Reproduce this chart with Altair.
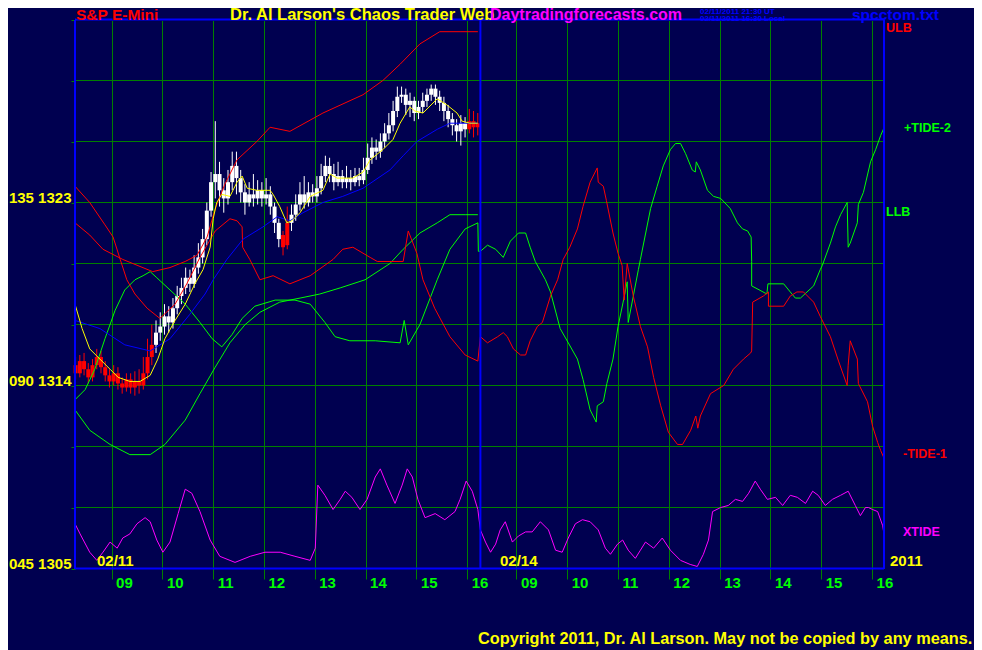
import altair as alt
import pandas as pd

BG = "#000050"
GRID = "#008000"
BLUE = "#0000ff"
RED = "#ff0000"
GREEN = "#00ff00"
YELLOW = "#ffff00"
MAGENTA = "#ff00ff"
SANS = "Liberation Sans, Arial, sans-serif"

# ---- x positions: session hours; day 2 is placed after day 1 ----
DAY1_SHIFT = 8.28
DAY2_SHIFT = 0.31
hour_ticks = [9, 10, 11, 12, 13, 14, 15, 16]
price_lines = [1305, 1308, 1311, 1314, 1317, 1320, 1323, 1326, 1329, 1332]

# ---- price bars (5-minute bars, day 1): open, high, low, close ----
bars = [
    (1315.0, 1315.4, 1314.3, 1314.6), (1314.6, 1315.5, 1314.4, 1315.2), (1315.2, 1315.6, 1314.5, 1314.8),
    (1314.8, 1315.1, 1314.1, 1314.4), (1314.4, 1315.3, 1314.2, 1315.0), (1315.0, 1315.8, 1314.8, 1315.4),
    (1315.4, 1315.7, 1314.6, 1314.9), (1314.9, 1315.2, 1314.2, 1314.5), (1314.5, 1314.8, 1313.9, 1314.2),
    (1314.2, 1315.0, 1314.0, 1314.6), (1314.6, 1314.9, 1313.8, 1314.1), (1314.1, 1314.4, 1313.6, 1313.9),
    (1313.9, 1314.6, 1313.7, 1314.3), (1314.3, 1314.6, 1313.6, 1313.9), (1313.9, 1314.7, 1313.5, 1314.2),
    (1314.2, 1314.8, 1313.6, 1314.0), (1314.0, 1315.4, 1313.8, 1314.6), (1314.6, 1316.3, 1314.3, 1315.4),
    (1315.4, 1317.0, 1315.0, 1316.0), (1316.0, 1317.2, 1315.6, 1316.6), (1316.6, 1317.6, 1316.2, 1316.9),
    (1316.9, 1318.0, 1316.5, 1317.4), (1317.4, 1317.9, 1316.6, 1317.1), (1317.1, 1318.3, 1316.8, 1317.8),
    (1317.8, 1318.9, 1317.5, 1318.4), (1318.4, 1319.3, 1318.0, 1318.8), (1318.8, 1319.8, 1318.5, 1319.3),
    (1319.3, 1319.7, 1318.6, 1319.0), (1319.0, 1320.4, 1318.8, 1319.8), (1319.8, 1321.0, 1319.5, 1320.3),
    (1320.3, 1321.7, 1320.0, 1321.2), (1321.2, 1323.0, 1320.9, 1322.6), (1322.6, 1324.5, 1322.3, 1324.0),
    (1324.0, 1327.0, 1323.2, 1324.4), (1324.4, 1325.0, 1322.8, 1323.6), (1323.6, 1324.2, 1322.5, 1323.2),
    (1323.2, 1324.6, 1322.9, 1324.0), (1324.0, 1325.5, 1323.6, 1324.8), (1324.8, 1325.5, 1323.4, 1324.2),
    (1324.2, 1324.6, 1323.0, 1323.5), (1323.5, 1323.9, 1322.4, 1323.0), (1323.0, 1324.0, 1322.8, 1323.4),
    (1323.4, 1324.4, 1322.8, 1323.2), (1323.2, 1324.1, 1322.9, 1323.6), (1323.6, 1324.0, 1322.8, 1323.2),
    (1323.2, 1324.2, 1322.9, 1323.4), (1323.4, 1323.8, 1322.4, 1322.8), (1322.8, 1323.0, 1321.5, 1322.0),
    (1322.0, 1322.2, 1320.8, 1321.2), (1321.4, 1321.6, 1320.4, 1320.8), (1320.9, 1322.8, 1320.7, 1322.0),
    (1322.0, 1322.9, 1321.6, 1322.4), (1322.4, 1323.4, 1322.1, 1322.9), (1322.9, 1324.0, 1322.6, 1323.4),
    (1323.4, 1324.3, 1322.7, 1323.0), (1323.0, 1324.0, 1322.8, 1323.5), (1323.5, 1323.9, 1323.0, 1323.3),
    (1323.3, 1324.3, 1323.0, 1323.7), (1323.7, 1324.9, 1323.4, 1324.3), (1324.3, 1325.3, 1324.0, 1324.8),
    (1324.8, 1325.2, 1324.0, 1324.4), (1324.4, 1324.9, 1323.6, 1324.0), (1324.0, 1325.0, 1323.8, 1324.3),
    (1324.3, 1324.6, 1323.7, 1324.0), (1324.0, 1324.8, 1323.7, 1324.2), (1324.2, 1324.6, 1323.6, 1324.0),
    (1324.0, 1324.7, 1323.8, 1324.3), (1324.3, 1324.7, 1323.8, 1324.1), (1324.1, 1325.2, 1323.9, 1324.6),
    (1324.6, 1325.9, 1324.4, 1325.2), (1325.2, 1326.2, 1324.9, 1325.7), (1325.7, 1326.1, 1325.1, 1325.5),
    (1325.5, 1326.4, 1325.2, 1326.0), (1326.0, 1326.9, 1325.7, 1326.4), (1326.4, 1327.4, 1326.1, 1326.8),
    (1326.8, 1328.0, 1326.5, 1327.5), (1327.5, 1328.7, 1327.2, 1328.2), (1328.2, 1328.7, 1327.9, 1328.3),
    (1328.3, 1328.6, 1327.3, 1327.8), (1327.8, 1328.4, 1327.2, 1328.0), (1328.0, 1328.2, 1327.0, 1327.4),
    (1327.4, 1328.0, 1327.1, 1327.7), (1327.7, 1328.4, 1327.4, 1328.0), (1328.0, 1328.6, 1327.7, 1328.3),
    (1328.3, 1328.8, 1328.0, 1328.6), (1328.6, 1328.8, 1327.8, 1328.2), (1328.2, 1328.5, 1327.5, 1327.9),
    (1327.9, 1328.2, 1327.0, 1327.5), (1327.5, 1327.8, 1326.7, 1327.1), (1327.1, 1327.4, 1326.3, 1326.8),
    (1326.8, 1327.1, 1326.0, 1326.5), (1326.5, 1327.3, 1325.8, 1326.9), (1326.9, 1327.2, 1326.2, 1326.6),
    (1326.6, 1327.6, 1326.4, 1327.0), (1327.0, 1327.5, 1326.2, 1326.7), (1326.7, 1327.4, 1326.3, 1326.9),
]
red_bars = list(range(0, 19)) + [49, 50, 93, 94, 95]

# ---- curves: (hour, price) pairs ----
ulb_d1 = [(8.28, 1322.0), (8.57, 1321.4), (8.83, 1320.7), (9.22, 1320.2), (9.81, 1319.6), (10.15, 1319.8),
          (10.45, 1320.1), (10.68, 1320.4), (10.88, 1321.3), (11.04, 1322.7), (11.23, 1323.9), (11.47, 1325.1),
          (11.86, 1326.0), (12.12, 1326.7), (12.51, 1326.5), (13.16, 1327.4), (13.95, 1328.3), (14.34, 1329.0),
          (14.68, 1329.8), (15.07, 1330.8), (15.46, 1331.4), (15.86, 1331.4), (16.21, 1331.4)]

llb_d1 = [(8.28, 1312.8), (8.57, 1311.8), (8.97, 1311.1), (9.36, 1310.6), (9.76, 1310.6), (10.05, 1311.1),
          (10.45, 1312.3), (10.74, 1313.6), (11.04, 1314.9), (11.33, 1316.1), (11.63, 1317.0), (11.92, 1317.6),
          (12.31, 1318.1), (12.71, 1318.3), (13.10, 1318.5), (13.50, 1318.8), (13.99, 1319.2), (14.48, 1320.0),
          (14.74, 1320.7), (15.07, 1321.5), (15.41, 1322.0), (15.66, 1322.4), (15.96, 1322.4), (16.21, 1322.4)]

slow_avg_d1 = [(8.28, 1317.2), (8.77, 1316.8), (9.26, 1316.0), (9.76, 1315.7), (10.15, 1316.3), (10.54, 1317.5),
               (10.84, 1318.5), (11.00, 1319.2), (11.27, 1320.2), (11.59, 1321.2), (11.98, 1321.8), (12.26, 1322.3),
               (12.51, 1322.1), (12.77, 1322.5), (13.16, 1323.0), (13.55, 1323.3), (13.95, 1323.7), (14.48, 1324.6),
               (14.74, 1325.3), (15.01, 1326.0), (15.41, 1326.6), (15.66, 1326.9), (16.05, 1326.9), (16.21, 1326.9)]

fast_avg_d1 = [(8.28, 1318.0), (8.42, 1316.8), (8.57, 1315.8), (8.77, 1315.3), (8.97, 1314.8), (9.13, 1314.4),
               (9.36, 1314.2), (9.56, 1314.2), (9.76, 1314.5), (9.91, 1315.3), (10.05, 1316.3), (10.25, 1317.2),
               (10.45, 1318.0), (10.64, 1319.0), (10.80, 1319.7), (10.94, 1320.8), (11.00, 1322.2), (11.07, 1323.0),
               (11.17, 1323.4), (11.33, 1323.3), (11.47, 1324.0), (11.57, 1324.3), (11.67, 1323.7), (11.86, 1323.6),
               (12.12, 1323.6), (12.18, 1323.4), (12.31, 1322.8), (12.45, 1322.0), (12.55, 1322.1), (12.71, 1322.5),
               (12.91, 1323.3), (13.16, 1323.6), (13.30, 1324.4), (13.44, 1324.2), (13.75, 1324.2), (13.95, 1324.5),
               (14.09, 1325.1), (14.34, 1325.6), (14.54, 1326.1), (14.68, 1326.9), (14.87, 1327.7), (14.97, 1327.5),
               (15.13, 1327.4), (15.41, 1328.1), (15.60, 1327.8), (15.80, 1327.4), (15.90, 1327.0), (16.05, 1326.9),
               (16.21, 1326.9)]

tide2_d1 = [(8.28, 1313.3), (8.48, 1313.8), (8.67, 1314.8), (8.87, 1316.3), (9.07, 1317.7), (9.26, 1318.7),
            (9.46, 1319.2), (9.62, 1319.4), (9.76, 1319.6), (9.89, 1319.3), (10.15, 1318.7), (10.45, 1318.0),
            (10.74, 1317.1), (10.98, 1316.3), (11.17, 1315.9), (11.37, 1316.5), (11.57, 1317.3), (11.82, 1317.9),
            (12.22, 1318.2), (12.61, 1318.2), (12.91, 1318.0), (13.20, 1317.1), (13.40, 1316.4), (13.69, 1316.2),
            (14.19, 1316.2), (14.68, 1316.1), (14.76, 1317.2), (14.84, 1316.0), (15.07, 1317.0), (15.41, 1319.2),
            (15.66, 1320.7), (15.96, 1321.7), (16.21, 1322.0), (16.22, 1320.6)]
tide2_d2 = [(8.29, 1320.6), (8.43, 1320.9), (8.59, 1320.7), (8.74, 1320.3), (8.88, 1321.1), (9.04, 1321.5),
            (9.18, 1321.5), (9.27, 1320.8), (9.37, 1320.1), (9.57, 1319.2), (9.67, 1318.6), (9.86, 1316.8),
            (10.02, 1316.1), (10.20, 1315.3), (10.31, 1314.3), (10.45, 1312.8), (10.57, 1312.2), (10.59, 1313.0),
            (10.71, 1313.2), (10.78, 1314.1), (10.90, 1315.3), (11.00, 1316.9), (11.10, 1318.1), (11.18, 1319.1),
            (11.20, 1317.1), (11.30, 1318.4), (11.40, 1319.7), (11.44, 1320.2), (11.64, 1322.7), (11.77, 1323.8),
            (11.89, 1324.8), (12.03, 1325.6), (12.13, 1325.9), (12.23, 1325.9), (12.33, 1325.4), (12.46, 1324.6),
            (12.52, 1324.5), (12.54, 1325.0), (12.62, 1324.6), (12.76, 1323.6), (12.88, 1323.3), (13.02, 1323.2),
            (13.21, 1322.7), (13.35, 1322.0), (13.45, 1321.7), (13.55, 1321.6), (13.62, 1321.3), (13.63, 1320.1),
            (13.63, 1318.9), (13.93, 1318.5), (13.95, 1319.0), (14.26, 1319.0), (14.39, 1318.6), (14.49, 1318.3),
            (14.59, 1318.3), (14.85, 1318.9), (14.98, 1319.7), (15.02, 1319.9), (15.18, 1321.0), (15.28, 1321.8),
            (15.38, 1322.4), (15.51, 1323.0), (15.53, 1320.8), (15.57, 1321.0), (15.71, 1322.0), (15.73, 1322.9),
            (15.83, 1323.5), (15.97, 1325.0), (16.07, 1325.6), (16.17, 1326.3), (16.24, 1326.7)]

tide1_d1 = [(8.28, 1323.8), (8.57, 1323.0), (8.87, 1321.9), (9.03, 1321.3), (9.17, 1320.2), (9.30, 1319.2),
            (9.46, 1318.5), (9.70, 1317.8), (9.95, 1317.3), (10.25, 1318.0), (10.48, 1319.0), (10.74, 1320.3),
            (11.04, 1321.6), (11.33, 1322.2), (11.47, 1322.1), (11.57, 1321.8), (11.58, 1320.8), (11.72, 1320.2),
            (11.92, 1319.2), (12.18, 1319.4), (12.51, 1319.0), (12.91, 1319.4), (13.36, 1320.2), (13.55, 1320.7),
            (13.75, 1320.8), (14.09, 1320.3), (14.23, 1320.1), (14.74, 1320.1), (14.84, 1321.6), (15.01, 1320.5),
            (15.13, 1319.2), (15.36, 1317.8), (15.66, 1316.4), (15.96, 1315.5), (16.21, 1315.2)]
tide1_d2 = [(8.29, 1316.4), (8.43, 1316.1), (8.63, 1316.4), (8.74, 1316.6), (8.82, 1316.4), (8.94, 1315.8),
            (9.08, 1315.5), (9.18, 1315.5), (9.27, 1316.2), (9.41, 1316.9), (9.51, 1317.1), (9.67, 1318.4),
            (9.81, 1319.2), (9.92, 1320.2), (10.05, 1320.8), (10.20, 1321.7), (10.31, 1322.8), (10.45, 1324.0),
            (10.59, 1324.7), (10.61, 1324.0), (10.71, 1323.8), (10.77, 1323.1), (10.90, 1321.5), (11.00, 1320.5),
            (11.08, 1319.9), (11.12, 1318.2), (11.18, 1320.0), (11.30, 1318.4), (11.44, 1316.9), (11.58, 1315.9),
            (11.70, 1314.4), (11.84, 1313.0), (11.99, 1311.7), (12.17, 1311.1), (12.27, 1311.1), (12.43, 1311.8),
            (12.53, 1312.5), (12.57, 1311.9), (12.62, 1312.5), (12.82, 1313.6), (13.08, 1314.0), (13.27, 1314.8),
            (13.47, 1315.3), (13.61, 1315.6), (13.63, 1315.7), (13.65, 1318.1), (13.86, 1318.4), (13.96, 1318.6),
            (13.96, 1317.9), (14.26, 1317.9), (14.39, 1318.4), (14.52, 1318.6), (14.65, 1318.6), (14.85, 1318.1),
            (14.98, 1317.4), (15.18, 1316.4), (15.34, 1315.2), (15.51, 1314.0), (15.53, 1315.0), (15.57, 1316.2),
            (15.71, 1315.3), (15.73, 1314.1), (15.91, 1313.2), (16.01, 1312.0), (16.11, 1311.2), (16.17, 1310.8),
            (16.24, 1310.4)]

xtide_d1 = [(8.28, 1307.2), (8.38, 1306.7), (8.57, 1305.8), (8.71, 1305.4), (8.83, 1305.8), (8.97, 1306.3),
            (9.11, 1306.0), (9.22, 1306.5), (9.36, 1306.7), (9.50, 1307.2), (9.66, 1307.5), (9.76, 1307.3),
            (9.89, 1306.4), (10.01, 1305.8), (10.15, 1306.3), (10.31, 1307.7), (10.45, 1308.9), (10.58, 1308.7),
            (10.74, 1307.8), (10.94, 1306.4), (11.13, 1305.6), (11.43, 1305.3), (11.73, 1305.6), (12.02, 1305.8),
            (12.32, 1305.8), (12.61, 1305.6), (12.91, 1305.4), (13.01, 1306.0), (13.06, 1309.1), (13.20, 1308.6),
            (13.36, 1307.9), (13.50, 1308.4), (13.60, 1308.8), (13.73, 1308.5), (13.89, 1307.9), (14.03, 1308.4),
            (14.19, 1309.5), (14.29, 1309.9), (14.42, 1309.1), (14.58, 1308.2), (14.72, 1309.1), (14.82, 1309.9),
            (14.92, 1309.5), (15.03, 1308.4), (15.17, 1307.5), (15.37, 1307.7), (15.56, 1307.4), (15.76, 1307.8),
            (15.86, 1308.4), (15.98, 1309.3), (16.10, 1308.8), (16.21, 1307.9)]
xtide_d2 = [(8.29, 1306.9), (8.39, 1306.3), (8.49, 1305.8), (8.59, 1306.2), (8.68, 1306.9), (8.78, 1307.3),
            (8.92, 1306.3), (9.04, 1306.6), (9.18, 1306.8), (9.31, 1306.8), (9.47, 1307.3), (9.63, 1306.9),
            (9.77, 1305.9), (9.90, 1305.8), (10.02, 1306.5), (10.16, 1307.2), (10.30, 1307.4), (10.45, 1307.3),
            (10.61, 1306.9), (10.75, 1306.0), (10.85, 1305.7), (10.99, 1306.2), (11.09, 1306.4), (11.20, 1305.9),
            (11.34, 1305.5), (11.44, 1305.9), (11.54, 1306.3), (11.70, 1306.0), (11.87, 1306.5), (12.03, 1305.9),
            (12.23, 1305.4), (12.42, 1305.2), (12.56, 1305.1), (12.68, 1305.7), (12.78, 1306.4), (12.86, 1307.8),
            (13.02, 1308.0), (13.17, 1308.1), (13.31, 1308.4), (13.45, 1308.3), (13.57, 1308.7), (13.70, 1309.3),
            (13.80, 1308.9), (13.94, 1308.4), (14.10, 1308.5), (14.24, 1308.1), (14.39, 1308.6), (14.53, 1308.5),
            (14.69, 1308.2), (14.83, 1308.8), (14.94, 1308.6), (15.08, 1308.1), (15.22, 1308.4), (15.38, 1308.6),
            (15.53, 1308.8), (15.67, 1308.1), (15.77, 1307.6), (15.87, 1308.0), (15.93, 1308.0), (16.01, 1307.9),
            (16.11, 1307.8), (16.21, 1307.1), (16.24, 1306.6)]

series_defs = [
    ("xtide", xtide_d1, xtide_d2, MAGENTA),
    ("llb", llb_d1, [], GREEN),
    ("tide2", tide2_d1, tide2_d2, GREEN),
    ("tide1", tide1_d1, tide1_d2, RED),
    ("ulb", ulb_d1, [], RED),
    ("slow", slow_avg_d1, [], BLUE),
    ("fast", fast_avg_d1, [], YELLOW),
]

tick_vals = [h - DAY1_SHIFT for h in hour_ticks] + [h - DAY2_SHIFT for h in hour_ticks]

X = alt.X("t:Q", scale=alt.Scale(domain=[0, 15.925], nice=False, zero=False, padding=0),
          axis=alt.Axis(values=tick_vals, title=None, grid=True, gridColor=GRID, gridWidth=1,
                        gridOpacity=1, domain=False, ticks=True, tickColor=GRID, tickSize=10,
                        labelExpr="format(round(datum.value < 8 ? datum.value + 8.28 : datum.value + 0.31), '02d')",
                        labelColor=GREEN, labelFont=SANS, labelFontSize=15, labelFontWeight="bold",
                        labelAlign="left", labelBaseline="alphabetic", labelPadding=8, labelOffset=4,
                        labelOverlap=False, labelFlush=False, labelBound=False))
Y = alt.Y("v:Q", scale=alt.Scale(domain=[1305, 1332], nice=False, zero=False, padding=0, range=[548.5, -0.5]),
          axis=alt.Axis(values=price_lines, title=None, grid=False, domain=False, ticks=True,
                        tickColor=GRID, tickSize=4,
                        labelExpr="datum.value == 1323 ? '135 1323' : datum.value == 1314 ? '090 1314' : datum.value == 1305 ? '045 1305' : ''",
                        labelColor=YELLOW, labelFont=SANS, labelFontSize=15, labelFontWeight="bold",
                        labelBaseline="alphabetic", labelPadding=0, labelOverlap=False,
                        labelFlush=False, labelBound=False))

layers = []
# horizontal grid lines at the price levels
layers.append(alt.Chart(pd.DataFrame({"v": price_lines[1:-1]}))
              .mark_rule(color=GRID, strokeWidth=1).encode(y=Y))

# price bars: wick + body, white and red groups
for col_name, col in [("white", "#ffffff"), ("red", RED)]:
    wick_rows, body_rows = [], []
    for i, (o, hi, lo, c) in enumerate(bars):
        is_red = i in red_bars
        if (col_name == "red") != is_red:
            continue
        t = 8.25 + (i + 0.5) / 12 - DAY1_SHIFT
        wick_rows.append({"t": t, "v": lo, "v2": hi})
        body_rows.append({"t": t, "v": o, "v2": c})
    layers.append(alt.Chart(pd.DataFrame(wick_rows)).mark_rule(strokeWidth=1, color=col)
                  .encode(x=X, y=Y, y2="v2:Q"))
    layers.append(alt.Chart(pd.DataFrame(body_rows)).mark_bar(size=4, color=col)
                  .encode(x=X, y=Y, y2="v2:Q"))

# curves
for name, d1, d2, col in series_defs:
    rows = []
    k = 0
    for h, v in d1:
        rows.append({"t": h - DAY1_SHIFT, "v": v, "k": k}); k += 1
    for h, v in d2:
        rows.append({"t": h - DAY2_SHIFT, "v": v, "k": k}); k += 1
    layers.append(alt.Chart(pd.DataFrame(rows)).mark_line(strokeWidth=1, color=col)
                  .encode(x=X, y=Y, order=alt.Order("k:Q")))

# frame and day divider
layers.append(alt.Chart(pd.DataFrame({"t": [0.0, 7.98, 15.925]}))
              .mark_rule(color=BLUE, strokeWidth=2).encode(x=X))
layers.append(alt.Chart(pd.DataFrame({"v": [1305, 1332]}))
              .mark_rule(color=BLUE, strokeWidth=2).encode(y=Y))


def label(text, x, y, color, size):
    return alt.Chart(pd.DataFrame({"s": [text]})).mark_text(
        align="left", baseline="alphabetic", color=color, fontSize=size, font=SANS, fontWeight="bold"
    ).encode(x=alt.value(x), y=alt.value(y), text="s:N")


layers += [
    label("S&P E-Mini", 1, -0.5, RED, 15.5),
    label("Dr. Al Larson's Chaos Trader Web", 155, -0.5, YELLOW, 16.5),
    label("Daytradingforecasts.com", 415, -0.5, MAGENTA, 16),
    label("02/11/2011 21:30 UT", 625, -6.2, BLUE, 8),
    label("02/11/2011 16:30 Local", 625, 0.5, BLUE, 8),
    label("spcctom.txt", 777, -0.5, BLUE, 15.5),
    label("ULB", 811, 12, RED, 12.5),
    label("+TIDE-2", 829, 112, GREEN, 12.5),
    label("LLB", 811, 196, GREEN, 12.5),
    label("-TIDE-1", 828, 438, RED, 12.5),
    label("XTIDE", 828, 516, MAGENTA, 12.5),
    label("02/11", 22, 546, YELLOW, 15),
    label("02/14", 425, 546, YELLOW, 15),
    label("2011", 815, 546, YELLOW, 15),
    label("Copyright 2011, Dr. Al Larson. May not be copied by any means.", 403, 624, YELLOW, 16.3),
]

chart = alt.layer(*layers).properties(
    width=809, height=549,
    padding={"left": 67, "top": 12, "right": 90, "bottom": 81},
    autosize=alt.AutoSizeParams(type="none"),
    background=BG,
).configure_view(strokeWidth=0, fill=BG)

chart.save("out.html", embed_options={"renderer": "svg", "actions": False})
